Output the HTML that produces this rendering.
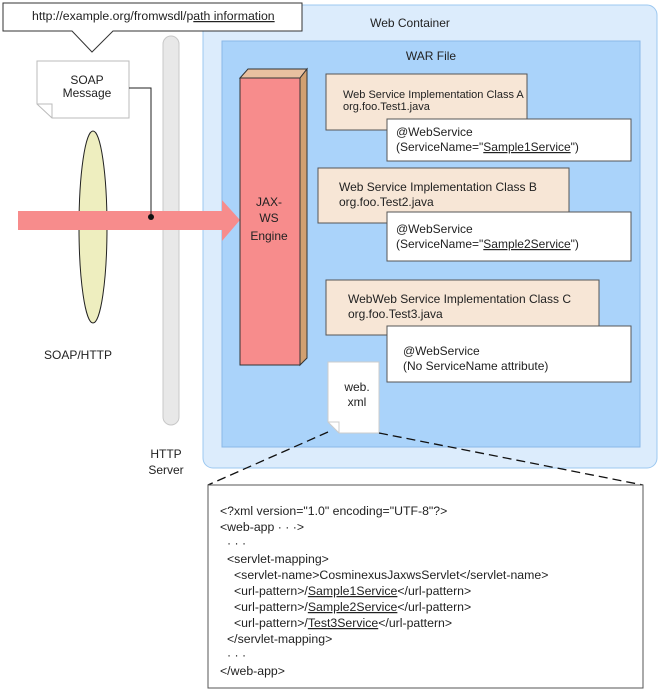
<!DOCTYPE html>
<html><head><style>body{margin:0;background:#fff}svg{display:block}text{font-family:"Liberation Sans",Arial,sans-serif;fill:#222}</style></head><body>
<svg width="661" height="691" xmlns="http://www.w3.org/2000/svg">
<rect x="203" y="5" width="454" height="463" rx="10" fill="#dcecfc" stroke="#9cc8f0"/>
<text x="410" y="27" font-size="12" text-anchor="middle">Web Container</text>
<rect x="222" y="41" width="418" height="406" fill="#aad3fa" stroke="#8ab8e8"/>
<text x="431" y="60" font-size="12" text-anchor="middle">WAR File</text>
<rect x="163" y="36" width="16" height="389" rx="8" fill="#e8e8e8" stroke="#c8c8c8"/>
<text x="166" y="458" font-size="12" text-anchor="middle">HTTP</text>
<text x="166" y="474" font-size="12" text-anchor="middle">Server</text>
<ellipse cx="93" cy="227" rx="14" ry="96" fill="#eeeebf" stroke="#222"/>
<text x="78" y="359" font-size="12" text-anchor="middle">SOAP/HTTP</text>
<polygon points="18,211 222,211 222,200 240,220 222,241 222,230 18,230" fill="#f78c8c"/>
<polygon points="3,3 302,3 302,31 113,31 92,52 72,31 3,31" fill="#fff" stroke="#333"/>
<text x="32" y="20" font-size="12.3">http://example.org/fromwsdl/p<tspan text-decoration="underline">ath information</tspan></text>
<polygon points="37,61 129,61 129,118 52,118 37,104" fill="#fff" stroke="#bbb"/>
<polyline points="37,104 52,104 52,118" fill="none" stroke="#bbb"/>
<text x="87" y="84" font-size="12" text-anchor="middle">SOAP</text>
<text x="87" y="97" font-size="12" text-anchor="middle">Message</text>
<polyline points="129,88 151,88 151,217" fill="none" stroke="#222"/>
<circle cx="151" cy="217" r="3" fill="#111"/>
<polygon points="240,78 248,69 307,69 300,78" fill="#e8c0a0" stroke="#333"/>
<polygon points="300,78 307,69 307,358 300,365" fill="#d2a070" stroke="#333"/>
<rect x="240" y="78" width="60" height="287" fill="#f78c8c" stroke="#333"/>
<text x="269" y="206" font-size="12" text-anchor="middle">JAX-</text>
<text x="269" y="222" font-size="12" text-anchor="middle">WS</text>
<text x="269" y="240" font-size="12" text-anchor="middle">Engine</text>
<rect x="326" y="74" width="201" height="56" fill="#f7e6d6" stroke="#555"/>
<text x="343" y="98" font-size="11">Web Service Implementation Class A</text>
<text x="343" y="110" font-size="11">org.foo.Test1.java</text>
<rect x="387" y="119" width="244" height="42" fill="#fff" stroke="#555"/>
<text x="396" y="136" font-size="12">@WebService</text>
<text x="396" y="151" font-size="12">(ServiceName="<tspan text-decoration="underline">Sample1Service</tspan>")</text>
<rect x="318" y="168" width="251" height="55" fill="#f7e6d6" stroke="#555"/>
<text x="339" y="191" font-size="12">Web Service Implementation Class B</text>
<text x="339" y="206" font-size="12">org.foo.Test2.java</text>
<rect x="387" y="212" width="244" height="49" fill="#fff" stroke="#555"/>
<text x="396" y="233" font-size="12">@WebService</text>
<text x="396" y="248" font-size="12">(ServiceName="<tspan text-decoration="underline">Sample2Service</tspan>")</text>
<rect x="326" y="280" width="273" height="55" fill="#f7e6d6" stroke="#555"/>
<text x="348" y="303" font-size="12">WebWeb Service Implementation Class C</text>
<text x="348" y="318" font-size="12">org.foo.Test3.java</text>
<rect x="387" y="326" width="244" height="56" fill="#fff" stroke="#555"/>
<text x="403" y="355" font-size="12">@WebService</text>
<text x="403" y="370" font-size="12">(No ServiceName attribute)</text>
<polygon points="328,362 379,362 379,433 339,433 328,422" fill="#fff" stroke="#ccc"/>
<polyline points="328,422 339,422 339,433" fill="none" stroke="#ccc"/>
<text x="357" y="391" font-size="12" text-anchor="middle">web.</text>
<text x="357" y="406" font-size="12" text-anchor="middle">xml</text>
<line x1="328" y1="432" x2="208" y2="485" stroke="#111" stroke-dasharray="9,5" stroke-width="1.3"/>
<line x1="379" y1="433" x2="643" y2="485" stroke="#111" stroke-dasharray="9,5" stroke-width="1.3"/>
<rect x="208" y="485" width="435" height="203" fill="#fff" stroke="#555"/>
<g font-size="12.3">
<text x="220" y="515">&lt;?xml version="1.0" encoding="UTF-8"?&gt;</text>
<text x="220" y="531">&lt;web-app · · ·&gt;</text>
<text x="227" y="547">· · ·</text>
<text x="227" y="563">&lt;servlet-mapping&gt;</text>
<text x="234" y="579">&lt;servlet-name&gt;CosminexusJaxwsServlet&lt;/servlet-name&gt;</text>
<text x="234" y="595">&lt;url-pattern&gt;/<tspan text-decoration="underline">Sample1Service</tspan>&lt;/url-pattern&gt;</text>
<text x="234" y="611">&lt;url-pattern&gt;/<tspan text-decoration="underline">Sample2Service</tspan>&lt;/url-pattern&gt;</text>
<text x="234" y="627">&lt;url-pattern&gt;/<tspan text-decoration="underline">Test3Service</tspan>&lt;/url-pattern&gt;</text>
<text x="227" y="643">&lt;/servlet-mapping&gt;</text>
<text x="227" y="659">· · ·</text>
<text x="220" y="675">&lt;/web-app&gt;</text>
</g>
</svg>
</body></html>
